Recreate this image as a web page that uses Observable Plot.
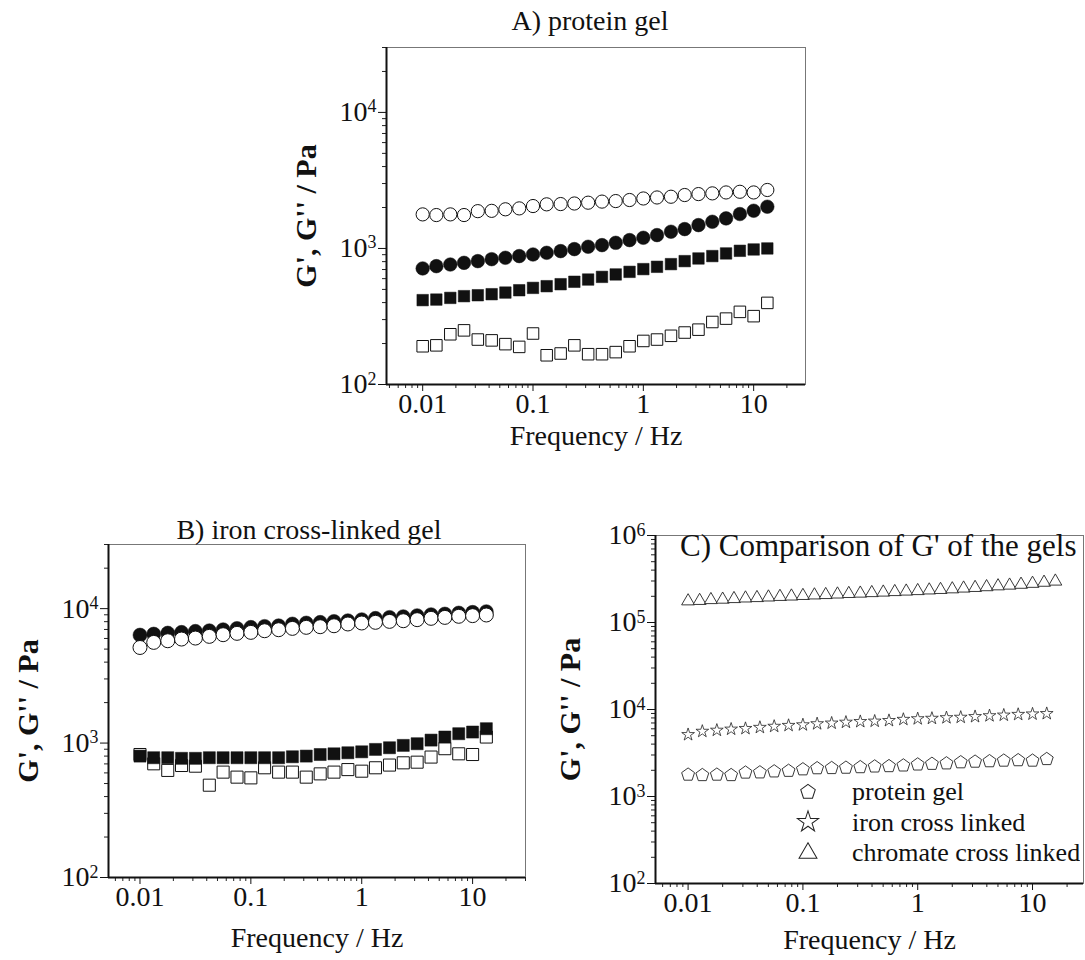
<!DOCTYPE html>
<html><head><meta charset="utf-8">
<script src="https://cdn.jsdelivr.net/npm/d3@7"></script>
<script src="https://cdn.jsdelivr.net/npm/@observablehq/plot@0.6"></script>
<style>
body{margin:0;background:#fff;font-family:"Liberation Serif","DejaVu Serif","Times New Roman",serif;}
#wrap{position:relative;width:1085px;height:960px;overflow:hidden;background:#fff}
.panel{position:absolute}
.panel svg{overflow:visible}
.title{position:absolute;font-size:28px;line-height:28px;white-space:nowrap;color:#111}
#legend{position:absolute;left:799px;top:777px;}
.lg-swatch{margin-bottom:0 !important;line-height:29.5px !important;}
.lg-swatch svg{margin-right:35px !important;}
</style></head><body><div id="wrap"></div>
<script>
// ---------- data ----------
const freq = [0.01, 0.0133, 0.0178, 0.0237, 0.0316, 0.0422, 0.0562, 0.075, 0.1, 0.133, 0.178, 0.237, 0.316, 0.422, 0.562, 0.75, 1, 1.33, 1.78, 2.37, 3.16, 4.22, 5.62, 7.5, 10, 13.3];
const freqChromate = [0.01, 0.0126, 0.0158, 0.02, 0.0251, 0.0316, 0.0398, 0.0501, 0.0631, 0.0794, 0.1, 0.126, 0.158, 0.2, 0.251, 0.316, 0.398, 0.501, 0.631, 0.794, 1, 1.26, 1.58, 2, 2.51, 3.16, 3.98, 5.01, 6.31, 7.94, 10, 12.6, 15.8];

// A) protein gel
const aOpenCircles  = [1780, 1760, 1780, 1760, 1880, 1890, 1940, 1970, 2050, 2110, 2120, 2140, 2170, 2210, 2230, 2270, 2330, 2370, 2400, 2470, 2510, 2540, 2580, 2610, 2580, 2690];
const aFilledCircles = [713, 741, 762, 784, 807, 834, 854, 879, 903, 929, 956, 989, 1029, 1058, 1100, 1152, 1198, 1254, 1327, 1388, 1485, 1571, 1663, 1790, 1893, 2027];
const aFilledSquares = [417, 421, 433, 446, 453, 461, 474, 493, 513, 528, 546, 569, 591, 618, 644, 673, 705, 733, 767, 807, 844, 879, 919, 961, 983, 1000];
const aOpenSquares  = [191, 194, 234, 250, 214, 211, 198, 189, 237, 164, 169, 194, 167, 167, 173, 191, 209, 214, 228, 241, 253, 288, 305, 342, 318, 398];

// B) iron cross-linked gel
const bOpenCircles  = [5140, 5610, 5770, 5940, 6040, 6220, 6400, 6550, 6660, 6850, 6970, 7130, 7260, 7340, 7460, 7690, 7820, 7910, 8040, 8130, 8280, 8470, 8610, 8770, 8870, 8970];
const bFilledCircles = [6360, 6470, 6580, 6660, 6780, 6850, 6970, 7130, 7260, 7380, 7460, 7690, 7820, 7910, 8040, 8130, 8280, 8470, 8610, 8710, 8870, 9020, 9120, 9280, 9390, 9500];
const bFilledSquares = [800, 778, 778, 770, 770, 778, 778, 778, 778, 778, 778, 791, 800, 822, 832, 847, 861, 897, 923, 961, 989, 1052, 1109, 1174, 1208, 1279];
const bOpenSquares  = [822, 701, 626, 681, 673, 486, 608, 558, 551, 655, 608, 608, 558, 590, 608, 635, 618, 655, 686, 713, 721, 787, 908, 832, 822, 1109];

// C) comparison of G'
const cChromate = [176000, 178000, 182000, 184000, 187000, 190000, 192000, 195000, 198000, 200000, 203000, 206000, 208000, 211000, 214000, 216000, 219000, 222000, 225000, 228000, 231000, 235000, 238000, 242000, 247000, 251000, 256000, 262000, 267000, 273000, 280000, 288000, 297000];
const cProtein = aOpenCircles;
const cIron = bOpenCircles;

const legendNames = ["protein gel", "iron cross linked", "chromate cross linked"];
const xMajorTicks = [0.01, 0.1, 1, 10];
const xTickLabels = ["0.01", "0.1", "1", "10"];
const yLabel = "G', G'' / Pa";
const xLabel = "Frequency / Hz";
const titles = ["A) protein gel", "B) iron cross-linked gel", "C) Comparison of G' of the gels"];

// ---------- helpers ----------
const rows = (xs, ys) => xs.map((x, i) => ({x, y: ys[i]}));
const FONT = '"Liberation Serif", "DejaVu Serif", "Times New Roman", serif';
const pentagon = {
  draw(ctx, size) {
    const R = Math.sqrt(size / 2.3776);
    for (let k = 0; k < 5; k++) {
      const a = -Math.PI / 2 + k * 2 * Math.PI / 5;
      const px = R * Math.cos(a), py = R * Math.sin(a);
      k ? ctx.lineTo(px, py) : ctx.moveTo(px, py);
    }
    ctx.closePath();
  }
};
function minorTicks(lo, hi) {
  const t = [];
  for (let e = Math.floor(Math.log10(lo)); e <= Math.ceil(Math.log10(hi)); e++)
    for (let m = 2; m <= 9; m++) { const v = m * Math.pow(10, e); if (v >= lo && v <= hi) t.push(v); }
  return t;
}
function decades(lo, hi) {
  const t = [];
  for (let e = Math.ceil(Math.log10(lo) - 1e-9); e <= Math.floor(Math.log10(hi) + 1e-9); e++) t.push(Math.pow(10, e));
  return t;
}

const wrap = document.getElementById("wrap");

function makePanel(c) {
  const plot = Plot.plot({
    width: c.width, height: c.height,
    marginLeft: c.ml, marginRight: c.mr, marginTop: c.mt, marginBottom: c.mb,
    style: {fontFamily: FONT, fontSize: "28px", color: "#111", background: "transparent", overflow: "visible"},
    x: {type: "log", domain: c.xDomain},
    y: {type: "log", domain: c.yDomain},
    marks: [
      Plot.frame({stroke: "#777", strokeWidth: 1}),
      Plot.axisX({ticks: minorTicks(...c.xDomain), tickSize: 4, text: null, label: null, stroke: "#222"}),
      Plot.axisX({ticks: xMajorTicks, tickSize: 7, tickPadding: 2, fontSize: 28, label: null, stroke: "#111",
        tickFormat: d => xTickLabels[xMajorTicks.indexOf(d)]}),
      Plot.axisY({ticks: minorTicks(...c.yDomain), tickSize: 4, text: null, label: null, stroke: "#222"}),
      Plot.axisY({ticks: decades(...c.yDomain), tickSize: 8, tickPadding: 2, fontSize: 28, label: null, stroke: "#111",
        tickFormat: d => String(Math.round(Math.log10(d)))}),
      Plot.ruleX([c.xDomain[0]], {stroke: "#111", strokeWidth: 2}),
      Plot.ruleY([c.yDomain[0]], {stroke: "#111", strokeWidth: 2}),
      ...c.marks,
      Plot.text([xLabel], {frameAnchor: "bottom", dy: c.xLabelDy, fontSize: 28, textAnchor: "middle", lineAnchor: "middle", fill: "#111"}),
      Plot.text([yLabel], {frameAnchor: "left", dx: c.yLabelDx, rotate: -90, fontSize: 30, fontWeight: "bold", textAnchor: "middle", lineAnchor: "middle", fill: "#111"})
    ]
  });
  // superscript exponents on y tick labels
  d3.select(plot).selectAll('g[aria-label="y-axis tick label"] text').each(function() {
    const txt = this.textContent;
    if (!txt) return;
    const sel = d3.select(this);
    sel.text("10");
    sel.append("tspan").attr("dy", "-0.5em").attr("font-size", "0.64em").text(txt);
  });
  const div = document.createElement("div");
  div.className = "panel";
  div.style.left = c.left + "px";
  div.style.top = c.top + "px";
  div.appendChild(plot);
  wrap.appendChild(div);
}

const openStyle = {stroke: "#111", strokeWidth: 1, fill: "white"};
const fillStyle = {fill: "#111", stroke: "#111", strokeWidth: 0.5};

// Panel A
makePanel({
  left: 270, top: 0, width: 545, height: 460, ml: 116, mr: 10, mt: 47, mb: 76,
  xDomain: [0.0047, 29.5], yDomain: [100, 30000], xLabelDy: 52, yLabelDx: -80,
  marks: [
    Plot.dot(rows(freq, aOpenCircles), {x: "x", y: "y", symbol: "circle", r: 6.6, ...openStyle}),
    Plot.dot(rows(freq, aFilledCircles), {x: "x", y: "y", symbol: "circle", r: 6.8, ...fillStyle}),
    Plot.dot(rows(freq, aFilledSquares), {x: "x", y: "y", symbol: "square", r: 6.5, ...fillStyle}),
    Plot.dot(rows(freq, aOpenSquares), {x: "x", y: "y", symbol: "square", r: 6.5, ...openStyle})
  ]
});

// Panel B
makePanel({
  left: 0, top: 500, width: 540, height: 460, ml: 108, mr: 15, mt: 44, mb: 83,
  xDomain: [0.0052, 30], yDomain: [100, 30000], xLabelDy: 61, yLabelDx: -80,
  marks: [
    Plot.dot(rows(freq, bFilledCircles), {x: "x", y: "y", symbol: "circle", r: 7, ...fillStyle}),
    Plot.dot(rows(freq, bOpenCircles), {x: "x", y: "y", symbol: "circle", r: 7, ...openStyle}),
    Plot.dot(rows(freq, bOpenSquares), {x: "x", y: "y", symbol: "square", r: 6.8, ...openStyle}),
    Plot.dot(rows(freq, bFilledSquares), {x: "x", y: "y", symbol: "square", r: 6.8, ...fillStyle})
  ]
});

// Panel C
makePanel({
  left: 545, top: 500, width: 540, height: 460, ml: 110, mr: 2, mt: 35, mb: 77,
  xDomain: [0.0052, 27.8], yDomain: [100, 1e6], xLabelDy: 57, yLabelDx: -85,
  marks: [
    Plot.dot(rows(freq, cProtein), {x: "x", y: "y", symbol: pentagon, r: 5.9, stroke: "#222", strokeWidth: 0.9, fill: "white"}),
    Plot.dot(rows(freq, cIron), {x: "x", y: "y", symbol: "star", r: 4, stroke: "#222", strokeWidth: 0.8, fill: "white"}),
    Plot.dot(rows(freqChromate, cChromate), {x: "x", y: "y", symbol: "triangle", r: 4.8, stroke: "#222", strokeWidth: 0.9, fill: "white"})
  ]
});

// Titles
const titlePos = [
  {left: 590, top: 7, center: true, size: 28},
  {left: 309, top: 516, center: true, size: 28},
  {left: 680, top: 530, center: false, size: 31}
];
titles.forEach((t, i) => {
  const d = document.createElement("div");
  d.className = "title";
  d.textContent = t;
  const p = titlePos[i];
  d.style.left = p.left + "px";
  d.style.top = p.top + "px";
  d.style.fontSize = p.size + "px";
  d.style.lineHeight = p.size + "px";
  if (p.center) d.style.transform = "translateX(-50%)";
  wrap.appendChild(d);
});

// Legend for C
const legend = Plot.legend({
  symbol: {domain: legendNames, range: [pentagon, "star", "triangle"]},
  columns: 1, className: "lg", swatchSize: 18, r: 5.9, fill: "white", stroke: "#222", strokeWidth: 0.9,
  style: {fontFamily: FONT, fontSize: "26px", color: "#111", background: "transparent"}
});
const lg = document.createElement("div");
lg.id = "legend";
lg.appendChild(legend);
wrap.appendChild(lg);
</script></body></html>
